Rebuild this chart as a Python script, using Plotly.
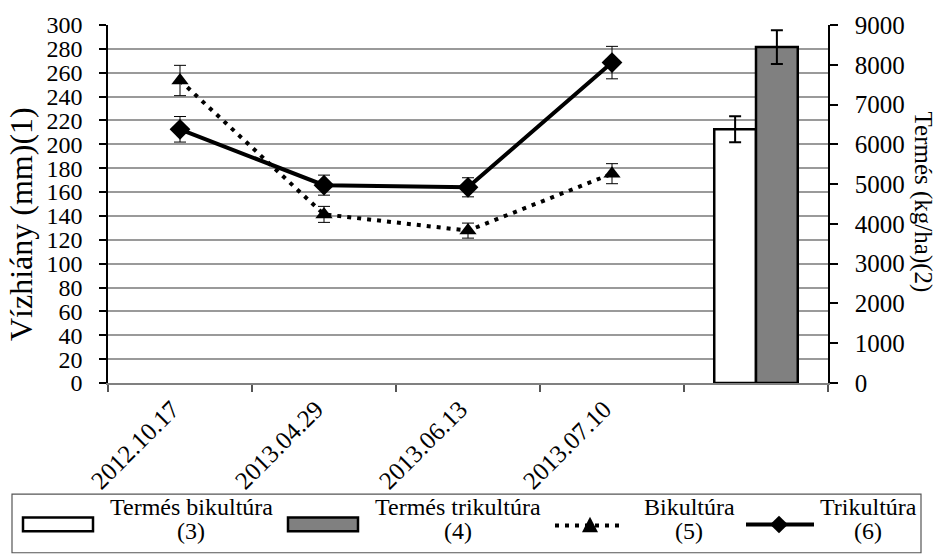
import plotly.graph_objects as go

# Sampling dates (last slot is left for the yield bars)
dates = ["2012.10.17", "2013.04.29", "2013.06.13", "2013.07.10"]
yield_slot = " "

# Water deficit (mm) with standard errors
bikultura = [253.5, 141.3, 127.7, 175.4]
bikultura_err = [12.7, 6.7, 6.3, 8.4]
trikultura = [212.6, 165.8, 164.0, 268.5]
trikultura_err = [10.7, 8.4, 8.0, 13.6]

# Yield (kg/ha) with standard errors
yield_bi = [6380]
yield_bi_err = [325]
yield_tri = [8445]
yield_tri_err = [425]

FONT = "'Liberation Serif', 'Times New Roman', 'DejaVu Serif', serif"
W, H = 944, 558
ML, MR, MT, MB = 108, 116, 16, 175
PW, PH = W - ML - MR, H - MT - MB


def px(x):
    return (x - ML) / PW


def py(y):
    return (H - MB - y) / PH


fig = go.Figure()

fig.add_trace(go.Bar(
    x=[yield_slot], y=yield_bi, yaxis="y2", name="Termés bikultúra",
    marker=dict(color="white", line=dict(color="black", width=2.5)),
    error_y=dict(type="data", array=yield_bi_err, color="black", thickness=2, width=6),
    offsetgroup="a", showlegend=False,
))
fig.add_trace(go.Bar(
    x=[yield_slot], y=yield_tri, yaxis="y2", name="Termés trikultúra",
    marker=dict(color="#808080", line=dict(color="black", width=2.5)),
    error_y=dict(type="data", array=yield_tri_err, color="black", thickness=2, width=6),
    offsetgroup="b", showlegend=False,
))
fig.add_trace(go.Scatter(
    x=dates, y=bikultura, name="Bikultúra", mode="lines+markers",
    line=dict(color="black", width=4, dash="4px,6px"),
    marker=dict(symbol="triangle-up", size=15, color="black"),
    error_y=dict(type="data", array=bikultura_err, color="black", thickness=1, width=6),
    showlegend=False,
))
fig.add_trace(go.Scatter(
    x=dates, y=trikultura, name="Trikultúra", mode="lines+markers",
    line=dict(color="black", width=4),
    marker=dict(symbol="diamond", size=16, color="black"),
    error_y=dict(type="data", array=trikultura_err, color="black", thickness=1, width=6),
    showlegend=False,
))

shapes = []
annotations = []

# Legend frame
shapes.append(dict(type="rect", xref="paper", yref="paper",
                   x0=px(12), x1=px(921), y0=py(497), y1=py(557),
                   line=dict(color="#555555", width=1.2), fillcolor="white"))
# Bar swatches
for x0, x1, fill in [(23, 93, "white"), (288, 358, "#808080")]:
    shapes.append(dict(type="rect", xref="paper", yref="paper",
                       x0=px(x0), x1=px(x1), y0=py(521), y1=py(535),
                       line=dict(color="black", width=2.5), fillcolor=fill))
# Dotted line + triangle
shapes.append(dict(type="line", xref="paper", yref="paper",
                   x0=px(555), x1=px(622), y0=py(529), y1=py(529),
                   line=dict(color="black", width=4, dash="4px,6px")))
tx, ty = 590, 529
shapes.append(dict(type="path", xref="paper", yref="paper",
                   path=f"M {px(tx-8)},{py(ty+7)} L {px(tx+8)},{py(ty+7)} L {px(tx)},{py(ty-9)} Z",
                   fillcolor="black", line=dict(color="black", width=0)))
# Solid line + diamond
shapes.append(dict(type="line", xref="paper", yref="paper",
                   x0=px(746), x1=px(814), y0=py(528), y1=py(528),
                   line=dict(color="black", width=4)))
dx, dy = 779, 528
shapes.append(dict(type="path", xref="paper", yref="paper",
                   path=f"M {px(dx-9)},{py(dy)} L {px(dx)},{py(dy-9)} L {px(dx+9)},{py(dy)} L {px(dx)},{py(dy+9)} Z",
                   fillcolor="black", line=dict(color="black", width=0)))

legend_text = [
    (191, "Termés bikultúra", "(3)"),
    (458, "Termés trikultúra", "(4)"),
    (689, "Bikultúra", "(5)"),
    (868, "Trikultúra", "(6)"),
]
for cx, t1, t2 in legend_text:
    annotations.append(dict(x=px(cx), y=py(510), xref="paper", yref="paper", text=t1,
                            showarrow=False, xanchor="center", yanchor="middle",
                            font=dict(family=FONT, size=24, color="black")))
    annotations.append(dict(x=px(cx), y=py(535), xref="paper", yref="paper", text=t2,
                            showarrow=False, xanchor="center", yanchor="middle",
                            font=dict(family=FONT, size=24, color="black")))

# Axis titles
annotations.append(dict(x=px(21), y=py(220), xref="paper", yref="paper",
                        text="Vízhiány (mm)(1)", textangle=-90, showarrow=False,
                        xanchor="center", yanchor="middle",
                        font=dict(family=FONT, size=32, color="black")))
annotations.append(dict(x=px(923), y=py(197), xref="paper", yref="paper",
                        text="Termés (kg/ha)(2)", textangle=90, showarrow=False,
                        xanchor="center", yanchor="middle",
                        font=dict(family=FONT, size=25, color="black")))

tickfont = dict(family=FONT, size=24, color="black")

fig.update_layout(
    width=W, height=H,
    margin=dict(l=ML, r=MR, t=MT, b=MB, pad=0),
    paper_bgcolor="white", plot_bgcolor="white",
    font=dict(family=FONT, size=24, color="black"),
    barmode="group", bargap=0.42, bargroupgap=0,
    showlegend=False,
    xaxis=dict(
        type="category", categoryorder="array",
        categoryarray=dates + [yield_slot], range=[-0.5, 4.5],
        tickson="boundaries", ticks="outside", ticklen=7, tickwidth=1.5,
        tickcolor="#555555", tickangle=-45, showgrid=False,
        showline=True, linecolor="#808080", linewidth=1.5,
        ticklabelshift=-8,
        tickfont=dict(family=FONT, size=25, color="black"),
    ),
    yaxis=dict(
        range=[0, 300], dtick=20, tick0=0, ticks="outside", ticklen=7,
        tickwidth=1.5, tickcolor="black", showline=True, linecolor="black",
        linewidth=1.5, showgrid=True, gridcolor="#9a9a9a", gridwidth=1.5,
        zeroline=False, ticklabelstandoff=12,
        tickfont=tickfont,
    ),
    yaxis2=dict(
        range=[0, 9000], dtick=1000, tick0=0, overlaying="y", side="right",
        ticks="outside", ticklen=8, tickwidth=1.5, tickcolor="black",
        showline=True, linecolor="black", linewidth=1.5, showgrid=False,
        zeroline=False, ticklabelstandoff=12,
        tickfont=dict(family=FONT, size=25, color="black"),
    ),
    shapes=shapes,
    annotations=annotations,
)

fig.write_html("out.html")
